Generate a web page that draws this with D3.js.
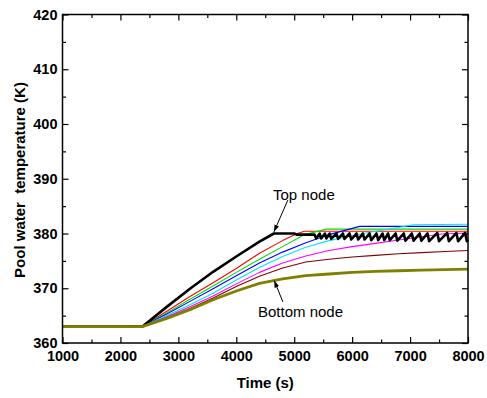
<!DOCTYPE html>
<html><head><meta charset="utf-8">
<script src="https://cdn.jsdelivr.net/npm/d3@7"></script>
<style>
body{margin:0;background:#fff;}
svg{display:block;font-family:"Liberation Sans",Arial,sans-serif;}
</style></head>
<body><svg id="c" width="487" height="398"></svg>
<script>
// ---- data (time s, temperature K) ----
const xTicks = [1000,2000,3000,4000,5000,6000,7000,8000];
const yTicks = [360,370,380,390,400,410,420];

const redNode = [[1000,363],[2380,363],[2800,365.8],[3200,368.5],[3600,371.0],[4000,373.6],[4400,376.4],[4800,378.7],[5050,380.0],[5180,380.4],[8000,380.4]];
const greenNode = [[1000,363],[2380,363],[2800,365.5],[3200,368.0],[3600,370.4],[4000,372.9],[4400,375.3],[4800,377.6],[5180,379.8],[5560,380.8],[8000,380.8]];
const blueNode = [[1000,363],[2380,363],[2800,365.3],[3200,367.6],[3600,369.9],[4000,372.3],[4400,374.6],[4800,376.6],[5180,378.2],[5600,379.8],[6130,381.3],[8000,381.3]];
const cyanNode = [[1000,363],[2380,363],[2800,365.0],[3200,367.0],[3600,369.1],[4000,371.5],[4400,373.8],[4800,375.8],[5200,377.5],[5600,378.7],[6000,379.6],[6400,380.4],[6800,381.1],[7050,381.6],[8000,381.7]];
const magentaNode = [[1000,363],[2380,363],[2800,364.8],[3200,366.6],[3600,368.6],[4000,370.8],[4400,372.9],[4800,374.6],[5200,375.9],[5600,376.9],[6000,377.6],[6400,378.2],[6800,378.8],[7200,379.4],[7550,379.9],[8000,380.1]];
const wineNode = [[1000,363],[2380,363],[2800,364.6],[3200,366.3],[3600,368.2],[4000,370.3],[4400,372.2],[4800,373.7],[5200,374.8],[5600,375.3],[6000,375.7],[6400,376.0],[6800,376.3],[7200,376.5],[7600,376.7],[8000,376.9]];
const topNode = [[1000,363],[2380,363],[2800,366.6],[3200,369.9],[3600,373.0],[4000,375.8],[4400,378.5],[4650,380.0],[5000,380.0],[5040,379.8],[5350,379.8],
 [5380,379.1],[5440,380.0],[5465,379.1],[5530,380.0],[5555,379.1],[5612,380.0],[5640,379.0],[5730,380.0],[5758,379.0],[5840,380.0],[5868,379.0],
 [5955,380.0],[5985,378.9],[6075,380.0],[6105,378.9],[6185,380.0],[6215,378.9],[6300,380.0],[6330,378.8],[6420,380.0],[6450,378.8],[6525,380.0],
 [6555,378.8],[6620,380.0],[6650,378.8],[6750,380.0],[6780,378.7],[6890,380.0],[6920,378.7],[7030,380.0],[7060,378.7],[7165,380.0],[7195,378.7],
 [7300,380.0],[7330,378.6],[7470,380.1],[7500,378.6],[7640,380.1],[7670,378.6],[7800,380.1],[7830,378.6],[7950,380.1],[7980,378.6],[8000,378.9]];
const bottomNode = [[1000,363],[2380,363],[2800,364.5],[3200,366.1],[3600,367.9],[4000,369.5],[4400,370.9],[4800,371.7],[5200,372.3],[5600,372.6],[6000,372.9],[6400,373.1],[6800,373.2],[7200,373.3],[7600,373.4],[8000,373.5]];

// annotation anchors (time, temperature)
const topArrow = [[4890,386.1],[4650,380.3]];
const bottomArrow = [[4805,367.5],[4655,371.4]];

const series = [
  {d: redNode, c: "#ff0000", w: 1.1},
  {d: greenNode, c: "#00dd00", w: 1.1},
  {d: blueNode, c: "#0000ff", w: 1.1},
  {d: cyanNode, c: "#00e5ff", w: 1.1},
  {d: magentaNode, c: "#ff00ff", w: 1.1},
  {d: wineNode, c: "#800000", w: 1.1},
  {d: topNode, c: "#000000", w: 2.6},
  {d: bottomNode, c: "#808000", w: 2.8}
];

// ---- layout ----
const L = 62.5, R = 468, T = 14.5, B = 343;
const svg = d3.select("#c");
const x = d3.scaleLinear().domain([1000,8000]).range([L,R]);
const y = d3.scaleLinear().domain([360,420]).range([B,T]);

const line = d3.line().x(d=>x(d[0])).y(d=>y(d[1]));
const g = svg.append("g");
series.forEach(s=>{
  g.append("path").attr("d", line(s.d)).attr("fill","none")
   .attr("stroke", s.c).attr("stroke-width", s.w).attr("stroke-linejoin","round");
});

// axes
const minorX = d3.range(1500,8000,1000);
const minorY = d3.range(365,420,10);
function styleAxis(sel){
  sel.select(".domain").remove();
  sel.selectAll("line").attr("stroke","#000").attr("stroke-width",1.2);
  sel.selectAll("text").attr("font-size","14.5px").attr("font-weight","bold").attr("fill","#000")
     .attr("font-family","'Liberation Sans',Arial,sans-serif");
}
svg.append("g").attr("transform",`translate(0,${B})`)
  .call(d3.axisBottom(x).tickValues(xTicks).tickSizeInner(-6).tickSizeOuter(0).tickPadding(8).tickFormat(d3.format("d"))).call(styleAxis);
svg.append("g").attr("transform",`translate(0,${B})`)
  .call(d3.axisBottom(x).tickValues(minorX).tickSizeInner(-3.5).tickSizeOuter(0).tickFormat("")).call(styleAxis);
svg.append("g").attr("transform",`translate(0,${T})`)
  .call(d3.axisTop(x).tickValues(xTicks).tickSizeInner(-6).tickSizeOuter(0).tickFormat("")).call(styleAxis);
svg.append("g").attr("transform",`translate(0,${T})`)
  .call(d3.axisTop(x).tickValues(minorX).tickSizeInner(-3.5).tickSizeOuter(0).tickFormat("")).call(styleAxis);
svg.append("g").attr("transform",`translate(${L},0)`)
  .call(d3.axisLeft(y).tickValues(yTicks).tickSizeInner(-6).tickSizeOuter(0).tickPadding(5).tickFormat(d3.format("d"))).call(styleAxis);
svg.append("g").attr("transform",`translate(${L},0)`)
  .call(d3.axisLeft(y).tickValues(minorY).tickSizeInner(-3.5).tickSizeOuter(0).tickFormat("")).call(styleAxis);
svg.append("g").attr("transform",`translate(${R},0)`)
  .call(d3.axisRight(y).tickValues(yTicks).tickSizeInner(-6).tickSizeOuter(0).tickFormat("")).call(styleAxis);
svg.append("g").attr("transform",`translate(${R},0)`)
  .call(d3.axisRight(y).tickValues(minorY).tickSizeInner(-3.5).tickSizeOuter(0).tickFormat("")).call(styleAxis);

svg.append("rect").attr("x",L).attr("y",T).attr("width",R-L).attr("height",B-T)
  .attr("fill","none").attr("stroke","#000").attr("stroke-width",1.5);

// titles
svg.append("text").attr("x",(L+R)/2).attr("y",388).attr("text-anchor","middle")
  .attr("font-size","15px").attr("font-weight","bold").text("Time (s)");
svg.append("text").attr("transform","translate(25,180) rotate(-90)").attr("text-anchor","middle")
  .attr("font-size","15px").attr("font-weight","bold").style("white-space","pre").text("Pool water  temperature (K)");

// annotations
const defs = svg.append("defs");
defs.append("marker").attr("id","ah").attr("viewBox","0 0 10 10").attr("refX",10).attr("refY",5)
  .attr("markerWidth",7).attr("markerHeight",7).attr("orient","auto")
  .append("path").attr("d","M0,1.5 L10,5 L0,8.5 Z").attr("fill","#000");

svg.append("text").attr("x",273).attr("y",200).attr("font-size","15px").text("Top node");
svg.append("line").attr("x1",x(topArrow[0][0])).attr("y1",y(topArrow[0][1])).attr("x2",x(topArrow[1][0])).attr("y2",y(topArrow[1][1]))
  .attr("stroke","#000").attr("stroke-width",1).attr("marker-end","url(#ah)");
svg.append("text").attr("x",258).attr("y",317).attr("font-size","15px").text("Bottom node");
svg.append("line").attr("x1",x(bottomArrow[0][0])).attr("y1",y(bottomArrow[0][1])).attr("x2",x(bottomArrow[1][0])).attr("y2",y(bottomArrow[1][1]))
  .attr("stroke","#000").attr("stroke-width",1).attr("marker-end","url(#ah)");
</script></body></html>
